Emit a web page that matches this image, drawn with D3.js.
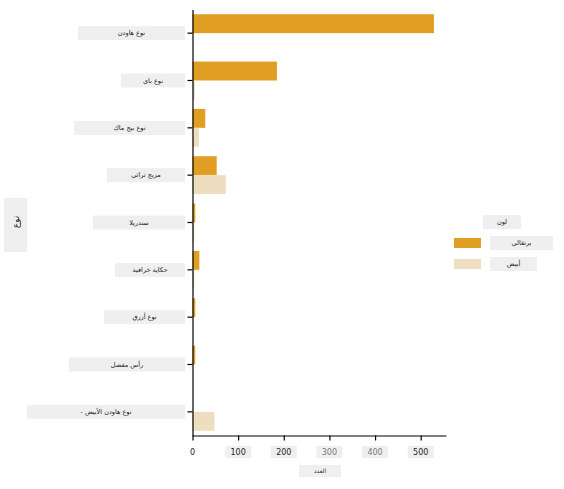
<!DOCTYPE html>
<html>
<head>
<meta charset="utf-8">
<script src="https://cdn.jsdelivr.net/npm/d3@7"></script>
<style>
  body { margin: 0; background: #fff; }
  svg text { font-family: "DejaVu Sans", sans-serif; }
</style>
</head>
<body>
<div id="chart"></div>
<script>
// chart data
const categories = ["نوع هاودن", "نوع باي", "نوع بيج ماك", "مزيج تراثي", "سندريلا",
    "حكاية خرافية", "نوع أزرق", "رأس مفصل", "نوع هاودن الأبيض -"];
const colorKeys = ["برتقالي", "أبيض"];
const orangeCounts = [529, 185, 28, 53, 6, 15, 6, 6, 0];
const whiteCounts = [0, 5, 14, 73, 4, 4, 0, 0, 48];
const xTicks = [0, 100, 200, 300, 400, 500];
const yTitle = "نوع";
const xTitle = "العدد";
const legendTitle = "لون";

// gray label backgrounds (widths only, decoration)
const labelBoxWidths = [107, 64, 111, 78, 92, 70, 81, 116, 158];

const W = 564, H = 489;
const colors = ["#e09e22", "#eddec0"];
const boxFill = "#efefef";

const svg = d3.select("#chart").append("svg")
    .attr("width", W)
    .attr("height", H);

// scales
const x = d3.scaleLinear()
    .domain([0, d3.max(orangeCounts.concat(whiteCounts)) * 1.05])
    .range([192.5, 446]);

const y = d3.scaleBand()
    .domain(categories)
    .range([9.5, 435.5])
    .paddingInner(0)
    .paddingOuter(0);

const ySub = d3.scaleBand()
    .domain(colorKeys)
    .range([y.bandwidth() * 0.1, y.bandwidth() * 0.9]);

const rows = categories.map((c, i) => ({
    cat: c,
    values: [
        { key: colorKeys[0], v: orangeCounts[i] },
        { key: colorKeys[1], v: whiteCounts[i] }
    ]
}));

// bars
const groups = svg.append("g")
    .selectAll("g")
    .data(rows)
    .enter().append("g")
    .attr("transform", d => `translate(0,${y(d.cat)})`);

groups.selectAll("rect")
    .data(d => d.values.filter(e => e.v > 0))
    .enter().append("rect")
    .attr("x", x(0))
    .attr("y", d => ySub(d.key))
    .attr("width", d => x(d.v) - x(0))
    .attr("height", ySub.bandwidth())
    .attr("fill", d => colors[colorKeys.indexOf(d.key)]);

// y axis
const yAxis = svg.append("g")
    .attr("transform", `translate(${x(0)},0)`)
    .call(d3.axisLeft(y).tickSize(5).tickSizeOuter(0).tickFormat(""));
yAxis.select(".domain").attr("stroke", "#000").attr("stroke-width", 1.2);
yAxis.selectAll(".tick line").attr("stroke", "#000").attr("stroke-width", 1.2);

// category labels with gray boxes
const labels = svg.append("g")
    .selectAll("g")
    .data(categories)
    .enter().append("g")
    .attr("transform", d => `translate(0,${y(d) + y.bandwidth() / 2})`);

labels.append("rect")
    .attr("x", (d, i) => 185 - labelBoxWidths[i])
    .attr("y", -7)
    .attr("width", (d, i) => labelBoxWidths[i])
    .attr("height", 14)
    .attr("fill", boxFill);

labels.append("text")
    .attr("x", (d, i) => 185 - labelBoxWidths[i] / 2)
    .attr("dy", "0.35em")
    .attr("text-anchor", "middle")
    .attr("direction", "rtl")
    .style("font-size", "6.5px")
    .style("fill", "#222")
    .text(d => d);

// x axis
const xAxis = svg.append("g")
    .attr("transform", `translate(0,${y.range()[1]})`)
    .call(d3.axisBottom(x).tickValues(xTicks).tickSize(5).tickSizeOuter(0).tickFormat(""));
xAxis.select(".domain").attr("stroke", "#000").attr("stroke-width", 1.2);
xAxis.selectAll(".tick line").attr("stroke", "#000").attr("stroke-width", 1.2);

const xl = svg.append("g")
    .selectAll("g")
    .data(xTicks)
    .enter().append("g")
    .attr("transform", d => `translate(${x(d)},452)`);

xl.filter(d => d > 0).append("rect")
    .attr("x", -13)
    .attr("y", -6)
    .attr("width", 26)
    .attr("height", 12)
    .attr("fill", boxFill);

xl.append("text")
    .attr("dy", "0.35em")
    .attr("text-anchor", "middle")
    .style("font-size", "8px")
    .style("fill", (d, i) => (i === 3 || i === 4) ? "#777" : "#222")
    .text(d => d);

// x title
svg.append("rect")
    .attr("x", 299).attr("y", 465)
    .attr("width", 42).attr("height", 12)
    .attr("fill", boxFill);
svg.append("text")
    .attr("x", 320).attr("y", 471)
    .attr("dy", "0.35em")
    .attr("text-anchor", "middle")
    .attr("direction", "rtl")
    .style("font-size", "6px")
    .style("fill", "#333")
    .text(xTitle);

// y title
svg.append("rect")
    .attr("x", 4).attr("y", 198)
    .attr("width", 23).attr("height", 54)
    .attr("fill", boxFill);
svg.append("text")
    .attr("transform", "translate(15.5,222) rotate(-90)")
    .attr("dy", "0.35em")
    .attr("text-anchor", "middle")
    .attr("direction", "rtl")
    .style("font-size", "9px")
    .style("fill", "#222")
    .text(yTitle);

// legend
const legend = svg.append("g");
legend.append("rect")
    .attr("x", 483).attr("y", 215)
    .attr("width", 38).attr("height", 14)
    .attr("fill", boxFill);
legend.append("text")
    .attr("x", 502).attr("y", 222)
    .attr("dy", "0.35em")
    .attr("text-anchor", "middle")
    .attr("direction", "rtl")
    .style("font-size", "6.5px")
    .style("fill", "#222")
    .text(legendTitle);

const legendBoxW = [63, 47];
const li = legend.selectAll(".item")
    .data(colorKeys)
    .enter().append("g")
    .attr("class", "item")
    .attr("transform", (d, i) => `translate(454,${243 + i * 21})`);

li.append("rect")
    .attr("x", 0).attr("y", -5)
    .attr("width", 27).attr("height", 10)
    .attr("fill", (d, i) => colors[i]);

li.append("rect")
    .attr("x", 36).attr("y", -7)
    .attr("width", (d, i) => legendBoxW[i]).attr("height", 14)
    .attr("fill", boxFill);

li.append("text")
    .attr("x", (d, i) => 36 + legendBoxW[i] / 2)
    .attr("dy", "0.35em")
    .attr("text-anchor", "middle")
    .attr("direction", "rtl")
    .style("font-size", "6.5px")
    .style("fill", "#222")
    .text(d => d);
</script>
</body>
</html>
